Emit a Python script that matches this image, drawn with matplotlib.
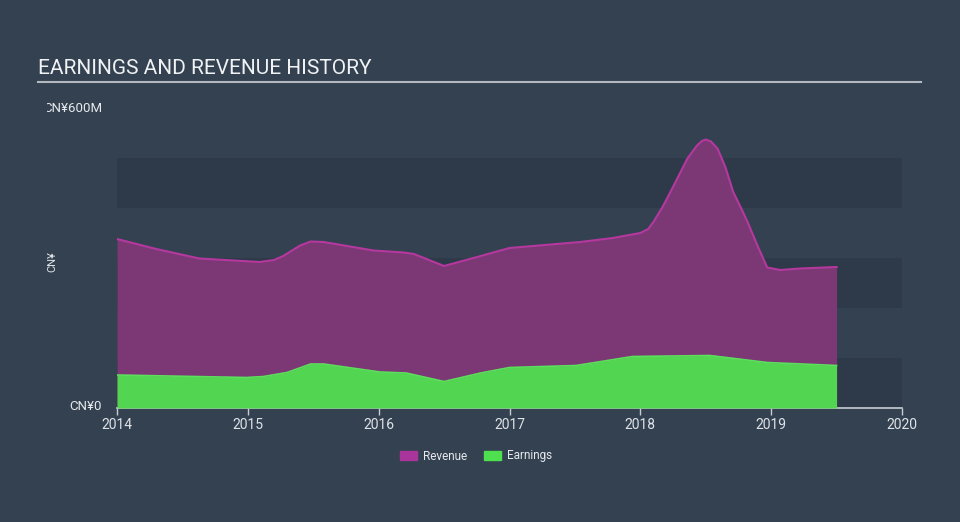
import numpy as np
import matplotlib
matplotlib.use("Agg")
from matplotlib import pyplot as plt
from matplotlib.transforms import Bbox
from matplotlib.patches import Patch

plt.rcParams['font.family'] = ['Roboto', 'DejaVu Sans']

# values in CN¥ millions
rev_years = [2014.0, 2014.3, 2014.63, 2015.09, 2015.2, 2015.27, 2015.4, 2015.48, 2015.58,
             2015.96, 2016.19, 2016.27, 2016.5, 2016.78, 2017.0, 2017.54, 2017.79, 2018.0,
             2018.06, 2018.1, 2018.17, 2018.23, 2018.3, 2018.36, 2018.43, 2018.47, 2018.5,
             2018.54, 2018.59, 2018.65, 2018.71, 2018.77, 2018.82, 2018.9, 2018.97, 2019.07,
             2019.22, 2019.5]
revenue = [338, 318, 299, 292, 296, 304, 325, 333, 332,
           315, 311, 308, 284, 304, 320, 332, 340, 350,
           358, 372, 402, 432, 468, 499, 524, 534, 537,
           533, 519, 482, 432, 400, 372, 322, 281, 276,
           279, 282]

earn_years = [2014.0, 2014.99, 2015.12, 2015.3, 2015.48, 2015.58, 2016.01, 2016.21, 2016.5,
              2016.78, 2017.0, 2017.51, 2017.94, 2018.53, 2018.97, 2019.5]
earnings = [66, 61, 63, 71, 88, 88, 72, 70, 53,
            70, 81, 85, 103, 105, 91, 85]

year_ticks = [2014, 2015, 2016, 2017, 2018, 2019, 2020]

bg = '#334151'
band = '#2e3a49'
fig = plt.figure(figsize=(9.6, 5.22), dpi=100, facecolor=bg)
ax = fig.add_axes([117/960, 114/522, 785/960, 300/522])
ax.set_facecolor(bg)
ax.set_xlim(2014, 2020)
ax.set_ylim(0, 600)

for lo in [0, 200, 400]:
    ax.axhspan(lo, lo + 100, color=band, lw=0, zorder=0)

ax.fill_between(rev_years, revenue, color='#7b3874', lw=0, zorder=1)
ax.plot(rev_years, revenue, color='#b5389f', lw=1.5, zorder=2, solid_joinstyle='round')
ax.fill_between(earn_years, earnings, color='#52d652', lw=0, zorder=3)
ax.plot(earn_years, earnings, color='#5ce05c', lw=1.2, zorder=4)

for s in ['top', 'right', 'left']:
    ax.spines[s].set_visible(False)
ax.spines['bottom'].set_color('#c8cdd3')
ax.spines['bottom'].set_linewidth(1.2)
ax.set_xticks(year_ticks)
ax.set_xticklabels([str(y) for y in year_ticks])
ax.tick_params(axis='x', colors='#c8cdd3', labelcolor='#dfe3e8', length=5, width=1, labelsize=10, pad=2)
ax.set_yticks([])

# y labels
clip = Bbox([[47, 0], [960, 522]])
t1 = fig.text(102/960, (522-108)/522, 'CN¥600M', color='#e6e9ec', fontsize=9.5, ha='right', va='center')
t1.set_clip_box(clip)
t1.set_clip_on(True)
fig.text(102/960, (522-407)/522, 'CN¥0', color='#e6e9ec', fontsize=9.5, ha='right', va='center')
fig.text(52/960, (522-262)/522, 'CN¥', color='#dfe3e8', fontsize=8, rotation=90, ha='center', va='center')

# title
fig.text(38/960, (522-68)/522, 'EARNINGS AND REVENUE HISTORY', color='#f0f2f4', fontsize=15, ha='left', va='center')
fig.add_artist(plt.Line2D([38/960, 921/960], [(522-82)/522]*2, color='#b4b9bf', lw=1.5))

handles = [Patch(color='#a9349b', label='Revenue'), Patch(color='#4fe04f', label='Earnings')]
leg = fig.legend(handles=handles, loc='center', bbox_to_anchor=(476/960, (522-456)/522), ncol=2,
                 frameon=False, fontsize=8.5, handlelength=1.4, handleheight=0.9, columnspacing=1.5,
                 handletextpad=0.5)
for t in leg.get_texts():
    t.set_color('#e6e9ec')

fig.savefig('out.png', dpi=100, facecolor=bg)
